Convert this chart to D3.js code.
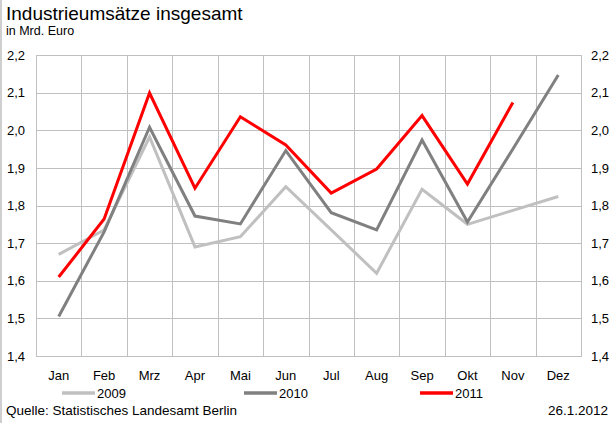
<!DOCTYPE html>
<html>
<head>
<meta charset="utf-8">
<script src="https://cdn.jsdelivr.net/npm/d3@7"></script>
<style>
  html, body { margin: 0; padding: 0; background: #fff; }
  svg { display: block; font-family: "Liberation Sans", Arial, sans-serif; }
</style>
</head>
<body>
<svg id="chart" width="615" height="423"></svg>
<script>
const months = ["Jan","Feb","Mrz","Apr","Mai","Jun","Jul","Aug","Sep","Okt","Nov","Dez"];
const values2009 = [1.67, 1.735, 1.982, 1.69, 1.717, 1.85, 1.735, 1.62, 1.843, 1.75, 1.787, 1.824];
const values2010 = [1.505, 1.73, 2.008, 1.772, 1.751, 1.946, 1.781, 1.735, 1.974, 1.756, 1.95, 2.147];
const values2011 = [1.61, 1.764, 2.099, 1.846, 2.036, 1.961, 1.833, 1.897, 2.039, 1.857, 2.074];
const yTicks = [1.4, 1.5, 1.6, 1.7, 1.8, 1.9, 2.0, 2.1, 2.2];
const seriesNames = ["2009", "2010", "2011"];
const seriesColors = ["#c0c0c0", "#808080", "#ff0000"];

const svg = d3.select("#chart");
const pLeft = 36, pRight = 581, pTop = 55, pBottom = 356;

const x = d3.scaleBand().domain(months).range([pLeft, pRight]).paddingInner(0).paddingOuter(0);
const y = d3.scaleLinear().domain([1.4, 2.2]).range([pBottom, pTop]);
const locale = d3.formatLocale({decimal: ",", thousands: ".", grouping: [3], currency: ["", "€"]});
const fmt = locale.format(".1f");

// outer frame line at left
svg.append("line").attr("x1", 1).attr("x2", 1).attr("y1", 0).attr("y2", 423)
  .attr("stroke", "#cfcfcf").attr("stroke-width", 2);

// titles
svg.append("text").attr("x", 6).attr("y", 20).attr("font-size", 19).attr("fill", "#000")
  .text("Industrieumsätze insgesamt");
svg.append("text").attr("x", 6).attr("y", 35).attr("font-size", 12.5).attr("fill", "#000")
  .text("in Mrd. Euro");

// gridlines
const grid = svg.append("g").attr("stroke", "#c0c0c0").attr("stroke-width", 1).attr("shape-rendering", "crispEdges");
grid.selectAll("line.h").data(yTicks).join("line").attr("class", "h")
  .attr("x1", pLeft).attr("x2", pRight).attr("y1", d => Math.round(y(d)) + 0.5).attr("y2", d => Math.round(y(d)) + 0.5);
grid.selectAll("line.v").data(months.slice(1)).join("line").attr("class", "v")
  .attr("x1", d => Math.round(x(d)) + 0.5).attr("x2", d => Math.round(x(d)) + 0.5).attr("y1", pTop).attr("y2", pBottom);
grid.append("rect").attr("x", pLeft + 0.5).attr("y", Math.round(pTop) + 0.5)
  .attr("width", pRight - pLeft).attr("height", Math.round(pBottom) - Math.round(pTop)).attr("fill", "none");

// axes
const yLeft = svg.append("g").attr("transform", `translate(${pLeft},0)`)
  .call(d3.axisLeft(y).tickValues(yTicks).tickFormat(fmt).tickSize(0).tickPadding(11));
const yRight = svg.append("g").attr("transform", `translate(${pRight},0)`)
  .call(d3.axisRight(y).tickValues(yTicks).tickFormat(fmt).tickSize(0).tickPadding(10));
const xAxis = svg.append("g").attr("transform", `translate(0,${pBottom})`)
  .call(d3.axisBottom(x).tickSize(0).tickPadding(15));
[yLeft, yRight, xAxis].forEach(g => {
  g.select(".domain").remove();
  g.selectAll("text").attr("font-size", 13).attr("fill", "#000").attr("font-family", "Liberation Sans, Arial, sans-serif");
});

// lines
const series = [values2009, values2010, values2011];
const line = d3.line().x((d, i) => x(months[i]) + x.bandwidth() / 2).y(d => y(d));
series.forEach((vals, k) => {
  svg.append("path").datum(vals).attr("fill", "none")
    .attr("stroke", seriesColors[k]).attr("stroke-width", 3)
    .attr("stroke-linejoin", "miter").attr("stroke-linecap", "butt")
    .attr("d", line);
});

// legend
const legendX = [62, 244, 420];
const leg = svg.append("g");
seriesNames.forEach((name, k) => {
  leg.append("line").attr("x1", legendX[k]).attr("x2", legendX[k] + 33).attr("y1", 393).attr("y2", 393)
    .attr("stroke", seriesColors[k]).attr("stroke-width", 3.5);
  leg.append("text").attr("x", legendX[k] + 35).attr("y", 397.5).attr("font-size", 13).attr("fill", "#000").text(name);
});

// footer
svg.append("text").attr("x", 6).attr("y", 415).attr("font-size", 13.5).attr("fill", "#000")
  .text("Quelle: Statistisches Landesamt Berlin");
svg.append("text").attr("x", 608).attr("y", 415).attr("font-size", 13.5).attr("fill", "#000")
  .attr("text-anchor", "end").text("26.1.2012");
</script>
</body>
</html>
